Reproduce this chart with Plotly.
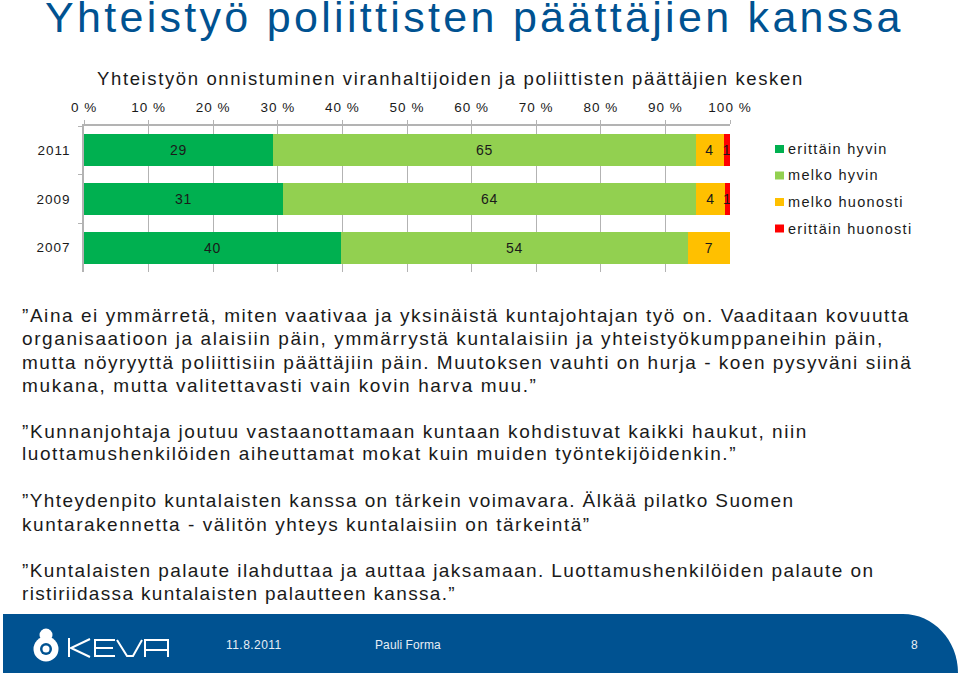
import json
import plotly.graph_objects as go

years = ['2011', '2009', '2007']
series_names = ['erittäin hyvin', 'melko hyvin', 'melko huonosti', 'erittäin huonosti']
series_colors = ['#00B050', '#92D050', '#FFC000', '#FF0000']
very_good = [29.3, 30.8, 39.8]
quite_good = [65.4, 64.0, 53.7]
quite_bad = [4.3, 4.4, 6.5]
very_bad = [1.0, 0.8, 0.0]
very_good_labels = ['29', '31', '40']
quite_good_labels = ['65', '64', '54']
quite_bad_labels = ['4', '4', '7']
very_bad_labels = ['1', '1', '']

x_ticks = list(range(0, 101, 10))
x_tick_labels = [f'{v} %' for v in x_ticks]

page_title = 'Yhteistyö poliittisten päättäjien kanssa'
chart_title = 'Yhteistyön onnistuminen viranhaltijoiden ja poliittisten päättäjien kesken'
quote_lines = [
    '”Aina ei ymmärretä, miten vaativaa ja yksinäistä kuntajohtajan työ on. Vaaditaan kovuutta',
    'organisaatioon ja alaisiin päin, ymmärrystä kuntalaisiin ja yhteistyökumppaneihin päin,',
    'mutta nöyryyttä poliittisiin päättäjiin päin. Muutoksen vauhti on hurja - koen pysyväni siinä',
    'mukana, mutta valitettavasti vain kovin harva muu.”',
    '”Kunnanjohtaja joutuu vastaanottamaan kuntaan kohdistuvat kaikki haukut, niin',
    'luottamushenkilöiden aiheuttamat mokat kuin muiden työntekijöidenkin.”',
    '”Yhteydenpito kuntalaisten kanssa on tärkein voimavara. Älkää pilatko Suomen',
    'kuntarakennetta - välitön yhteys kuntalaisiin on tärkeintä”',
    '”Kuntalaisten palaute ilahduttaa ja auttaa jaksamaan. Luottamushenkilöiden palaute on',
    'ristiriidassa kuntalaisten palautteen kanssa.”',
]
quote_y = [315, 338, 362, 385, 431, 454, 500, 524, 570, 593]
# the lines are justified a bit differently in the slide
quote_spacing = [1.555, 1.59, 1.51, 1.64, 1.565, 1.57, 1.41, 1.53, 1.43, 1.33]

W, H = 960, 679
FONT = 'Liberation Sans'
BLUE = '#005291'
INK = '#1a1a1a'


def px_x(v):
    return v / W


def px_y(v):
    return 1 - v / H


fig = go.Figure()
values = [very_good, quite_good, quite_bad, very_bad]
labels = [very_good_labels, quite_good_labels, quite_bad_labels, very_bad_labels]
for name, color, vals, txt in zip(series_names, series_colors, values, labels):
    fig.add_trace(go.Bar(
        y=years, x=vals, name=name, orientation='h',
        marker=dict(color=color, line_width=0),
        text=txt, textposition='inside', insidetextanchor='middle',
        textangle=0, constraintext='none',
        textfont=dict(family=FONT, size=14, color=INK),
        showlegend=False,
    ))

# letter spacing per annotation, applied in the post script below
spacing = []


def add_text(text, x, y, size, space, color=INK, anchor='left'):
    spacing.append(space)
    fig.add_annotation(
        text=text, xref='paper', yref='paper', x=px_x(x), y=px_y(y),
        xanchor=anchor, yanchor='middle', align=anchor, showarrow=False,
        font=dict(family=FONT, size=size, color=color),
    )


add_text(page_title, 43, 17, 43, 3.3, BLUE)
add_text(chart_title, 95, 78, 18.5, 1.63)
for line, y, space in zip(quote_lines, quote_y, quote_spacing):
    add_text(line, 20, y, 19, space)

# legend built by hand, the row spacing is wider than plotly's own legend
for i, (name, color) in enumerate(zip(series_names, series_colors)):
    row_y = 149 + i * 26.5
    fig.add_shape(type='rect', xref='paper', yref='paper', line_width=0, fillcolor=color,
                  x0=px_x(775), x1=px_x(784), y0=px_y(row_y + 4), y1=px_y(row_y - 4))
    add_text(name, 786, row_y, 14.5, 1.3)

# footer band with the rounded corner
x0, x1, y0, y1 = 3 / W, 958 / W, px_y(673), px_y(614)
fig.add_shape(type='path', xref='paper', yref='paper', line_width=0, fillcolor=BLUE, layer='below',
              path=f'M {x0} {y0} L {x0} {y1} L {903 / W} {y1} '
                   f'C {933 / W} {y1} {x1} {px_y(640)} {x1} {y0} Z')

add_text('11.8.2011', 224, 645, 12, 0.45, '#e8eef5')
add_text('Pauli Forma', 373, 645, 12, 0.1, '#e8eef5')
add_text('8', 914, 645, 12, 0, '#e8eef5', anchor='center')


def circle(cx, cy, r, color):
    fig.add_shape(type='circle', xref='paper', yref='paper', line_width=0, fillcolor=color,
                  x0=px_x(cx - r), x1=px_x(cx + r), y0=px_y(cy + r), y1=px_y(cy - r))


circle(46, 635, 6.5, 'white')
circle(46, 649, 12.5, 'white')
circle(46, 649, 6, BLUE)
circle(46, 649, 3.5, 'white')


def logo_line(points):
    path = 'M ' + ' L '.join(f'{px_x(a)} {px_y(b)}' for a, b in points)
    fig.add_shape(type='path', xref='paper', yref='paper', path=path,
                  line=dict(color='white', width=2))


logo_line([(69, 638), (69, 657)])
logo_line([(90, 639), (71, 648), (90, 657)])
logo_line([(115, 640), (95, 640), (95, 656), (115, 656)])
logo_line([(95, 648), (113, 648)])
logo_line([(117, 640), (127, 656), (133, 656), (142, 640)])
logo_line([(145, 657), (145, 640), (168, 640), (168, 657)])
logo_line([(145, 650), (168, 650)])

fig.update_layout(
    width=W, height=H, margin=dict(l=0, r=0, t=0, b=0),
    barmode='stack', bargap=0.34,
    plot_bgcolor='white', paper_bgcolor='white',
    xaxis=dict(
        domain=[px_x(84), px_x(730)], side='top', range=[0, 100], automargin=False,
        tickvals=x_ticks, ticktext=x_tick_labels,
        tickfont=dict(family=FONT, size=13.5, color=INK),
        showgrid=True, gridcolor='#b3b3b3', gridwidth=1,
        showline=True, linecolor='#b3b3b3', linewidth=1.5,
        ticks='outside', ticklen=4, tickcolor='#b3b3b3', zeroline=False,
        ticklabelstandoff=3,
    ),
    yaxis=dict(
        domain=[px_y(272), px_y(126)], autorange='reversed', type='category', automargin=False,
        tickfont=dict(family=FONT, size=13.5, color=INK),
        showgrid=False, showline=True, linecolor='#b3b3b3', linewidth=1.5,
        ticks='outside', ticklen=4, tickcolor='#b3b3b3', tickson='boundaries',
        ticklabelstandoff=9,
    ),
)

# the slide text is letter-spaced, plotly has no font attribute for that
post = """
document.body.style.margin = '0';
var spacing = %s;
document.querySelectorAll('.annotation').forEach(function (a) {
  var t = a.querySelector('.annotation-text');
  t.style.letterSpacing = spacing[+a.getAttribute('data-index')] + 'px';
});
document.querySelectorAll('.xtick text, .ytick text').forEach(function (t) {
  t.style.letterSpacing = '1px';
});
document.querySelectorAll('.bartext').forEach(function (t) {
  t.style.letterSpacing = '0.7px';
});
""" % json.dumps(spacing)
fig.write_html("out.html", post_script=post, config={'displayModeBar': False})
